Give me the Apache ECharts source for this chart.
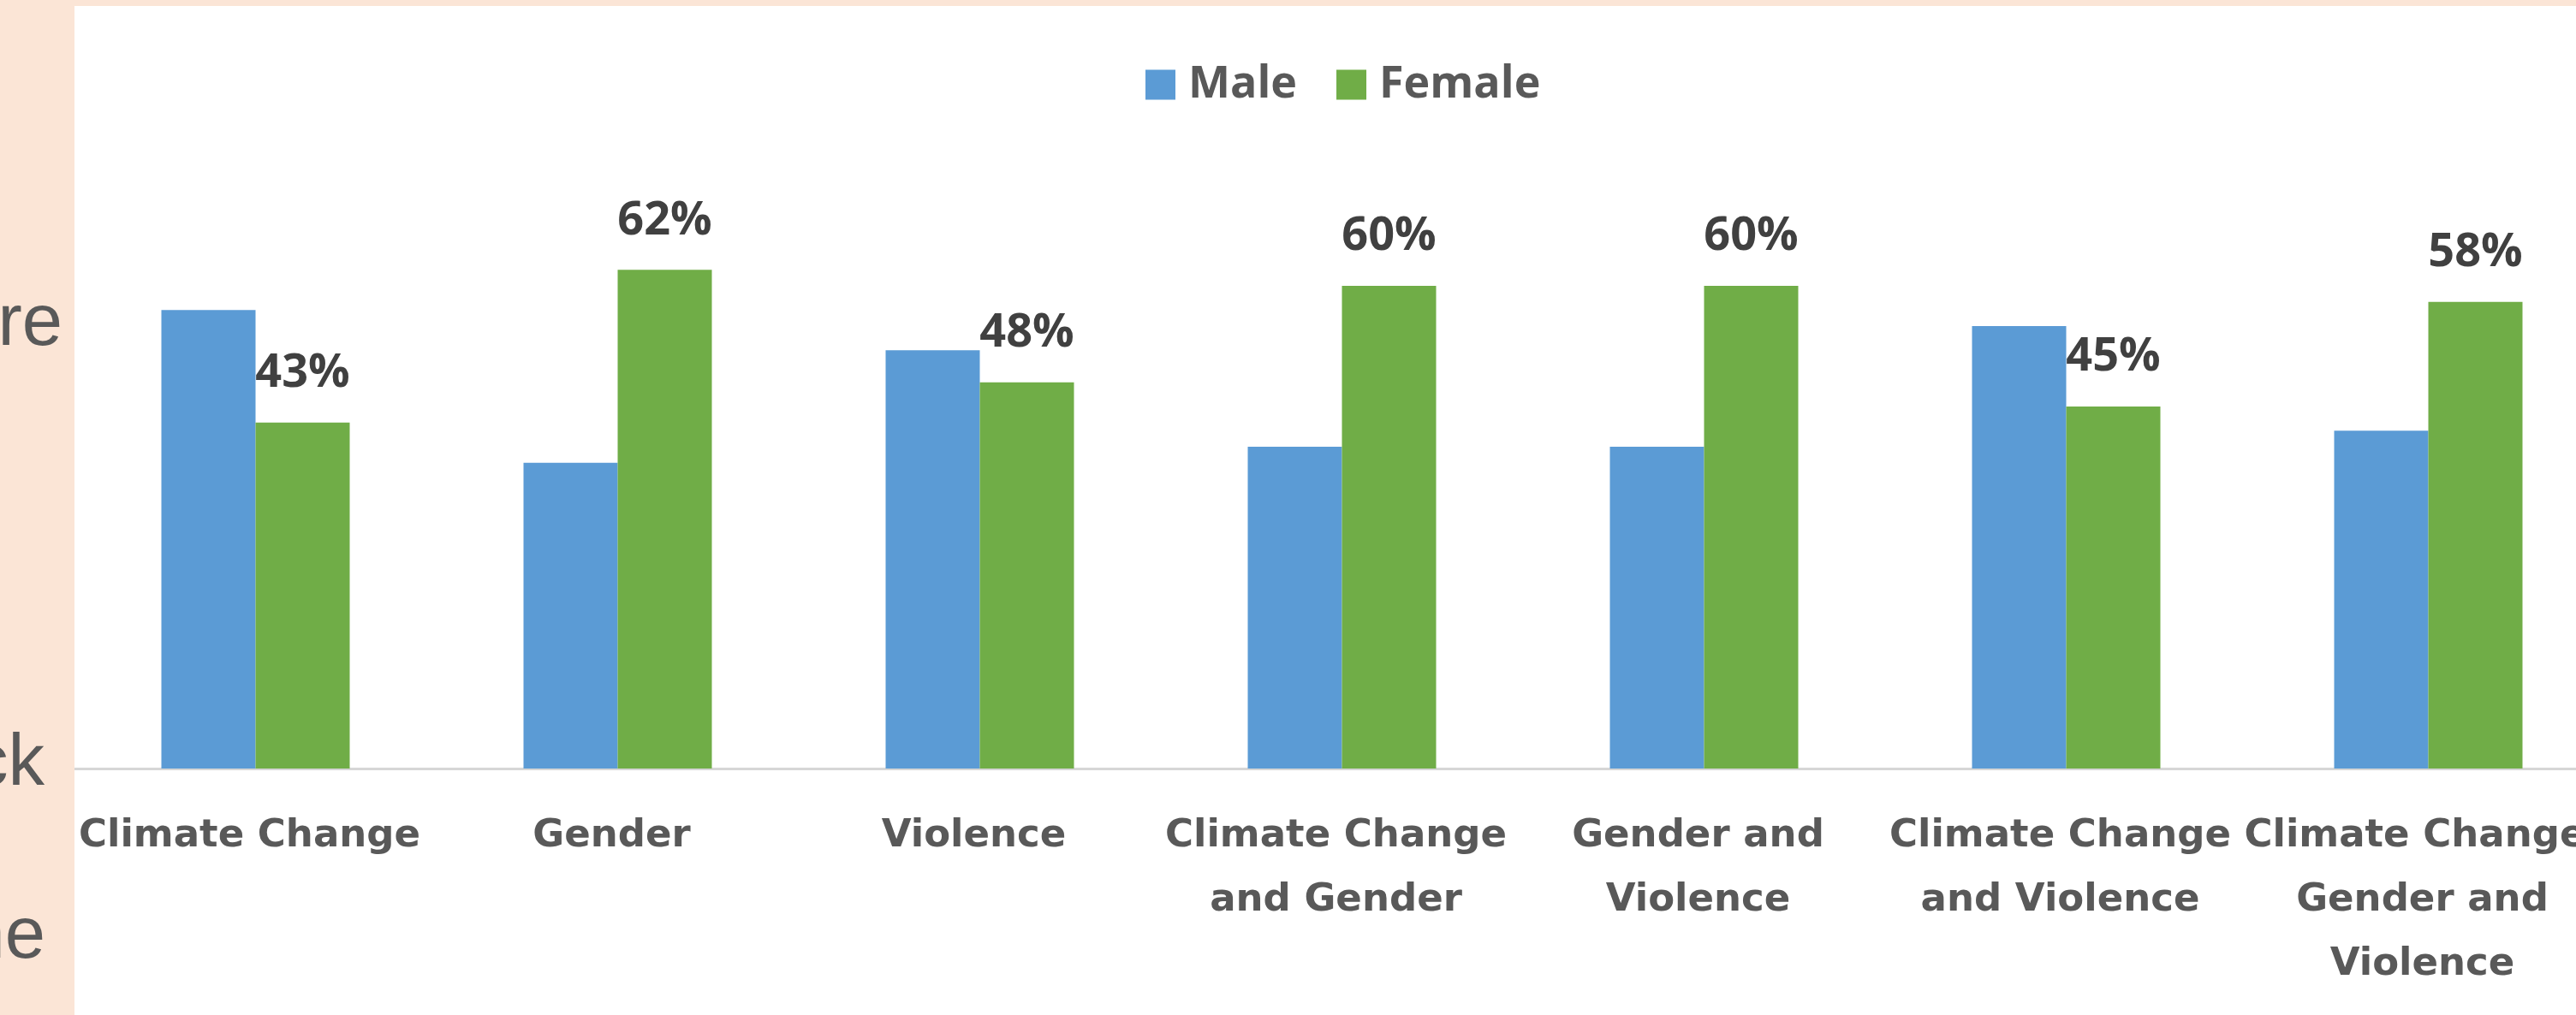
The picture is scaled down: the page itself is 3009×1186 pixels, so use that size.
<!DOCTYPE html>
<html>
<head>
<meta charset="utf-8">
<script src="https://cdn.jsdelivr.net/npm/echarts@6/dist/echarts.min.js"></script>
<style>
  html, body { margin: 0; padding: 0; background: #ffffff; }
  #chart { width: 3009px; height: 1186px; }
</style>
</head>
<body>
<div id="chart"></div>
<script>
const categories = [
  "Climate Change",
  "Gender",
  "Violence",
  "Climate Change\nand Gender",
  "Gender and\nViolence",
  "Climate Change\nand Violence",
  "Climate Change,\nGender and\nViolence"
];
const maleValues = [57, 38, 52, 40, 40, 55, 42];
const femaleValues = [43, 62, 48, 60, 60, 45, 58];
const seriesNames = ["Male", "Female"];
const sideTextFragments = ["re", "ck", "ne"];

const chart = echarts.init(document.getElementById('chart'), null, { renderer: 'canvas' });

const option = {
  backgroundColor: '#ffffff',
  animation: false,
  legend: {
    data: seriesNames,
    left: 1333,
    top: 68,
    itemWidth: 35,
    itemHeight: 35,
    itemGap: 46,
    icon: 'rect',
    textStyle: {
      fontFamily: 'Open Sans',
      fontWeight: 'bold',
      fontSize: 52,
      color: '#595959',
      padding: [0, 0, 0, 10]
    }
  },
  grid: {
    left: 87,
    top: 240,
    width: 2961,
    height: 658,
    containLabel: false,
    outerBoundsMode: 'none'
  },
  xAxis: {
    type: 'category',
    data: categories,
    boundaryGap: true,
    axisLine: { show: true, lineStyle: { color: '#d6d6d6', width: 3 } },
    axisTick: { show: false },
    axisLabel: {
      interval: 0,
      margin: 42,
      fontFamily: 'DejaVu Sans',
      fontWeight: 'bold',
      fontSize: 45,
      lineHeight: 75,
      color: '#595959',
      align: 'center',
      padding: [0, 14, 0, 0]
    }
  },
  yAxis: {
    type: 'value',
    min: 0,
    max: 70,
    show: false,
    splitLine: { show: false }
  },
  series: [
    {
      name: seriesNames[0],
      type: 'bar',
      data: maleValues,
      barWidth: 110,
      barGap: '0%',
      itemStyle: { color: '#5B9BD5' }
    },
    {
      name: seriesNames[1],
      type: 'bar',
      data: femaleValues,
      barWidth: 110,
      barGap: '0%',
      itemStyle: { color: '#70AD47' },
      label: {
        show: true,
        position: 'top',
        distance: 30,
        formatter: '{c}%',
        fontFamily: 'Open Sans',
        fontWeight: 'bold',
        fontSize: 54,
        color: '#404040'
      }
    }
  ],
  graphic: [
    { type: 'rect', left: 0, top: 0, z: 100, shape: { width: 87, height: 1186 }, style: { fill: '#FBE5D6' } },
    { type: 'rect', left: 0, top: 0, z: 100, shape: { width: 3009, height: 7 }, style: { fill: '#FBE5D6' } },
    { type: 'text', x: 73, y: 380, z: 101, style: { text: sideTextFragments[0], font: '85px "Liberation Sans", Arial, sans-serif', fill: '#595959', textAlign: 'right', textVerticalAlign: 'middle' } },
    { type: 'text', x: 52, y: 894, z: 101, style: { text: sideTextFragments[1], font: '85px "Liberation Sans", Arial, sans-serif', fill: '#595959', textAlign: 'right', textVerticalAlign: 'middle' } },
    { type: 'text', x: 53, y: 1096, z: 101, style: { text: sideTextFragments[2], font: '85px "Liberation Sans", Arial, sans-serif', fill: '#595959', textAlign: 'right', textVerticalAlign: 'middle' } }
  ]
};

chart.setOption(option);
</script>
</body>
</html>
